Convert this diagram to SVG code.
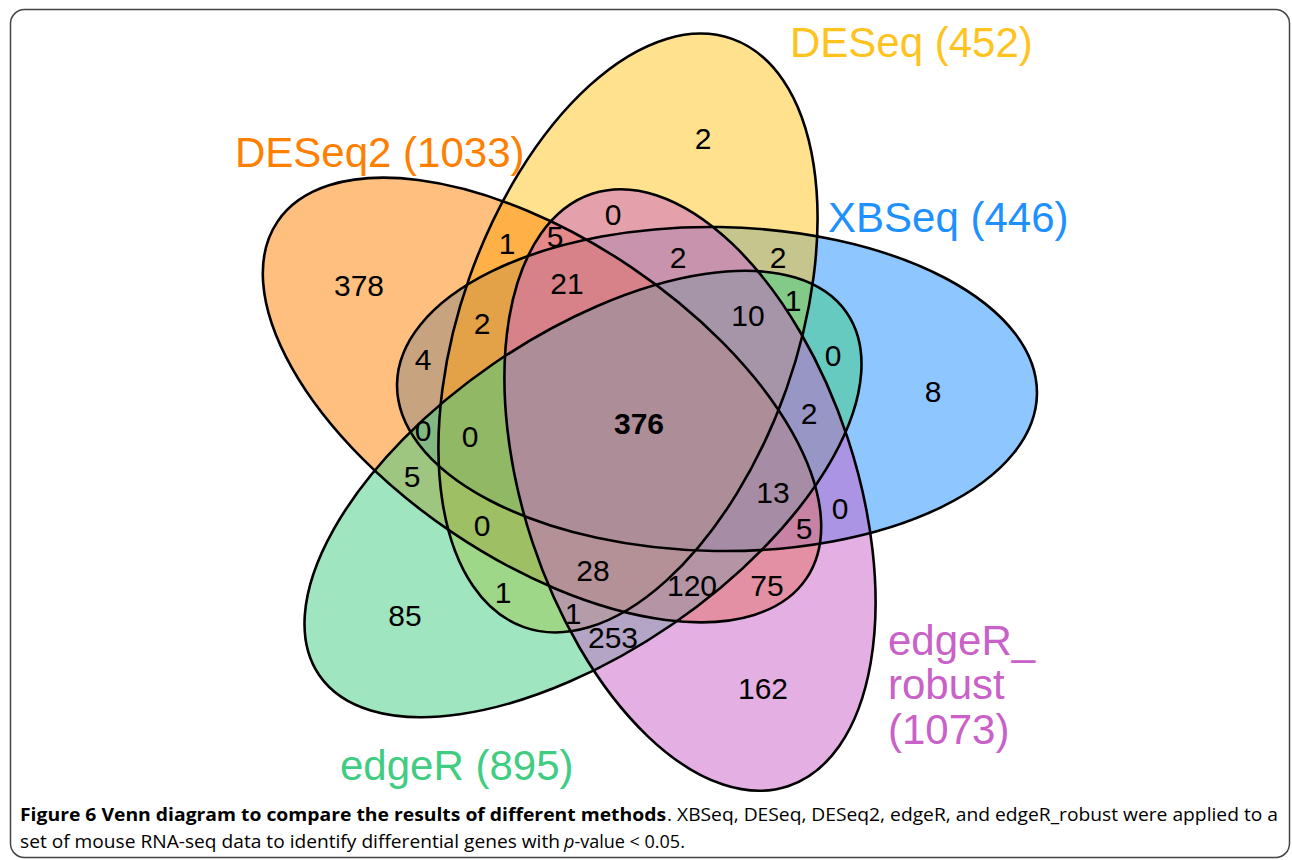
<svg xmlns="http://www.w3.org/2000/svg" xmlns:xlink="http://www.w3.org/1999/xlink" width="1292" height="860" viewBox="0 0 1292 860">
<style>
.fill{stroke:none;fill-opacity:0.5}
.outline{fill:none;stroke:#000;stroke-width:2.6}
.lbl{font-family:"Liberation Sans",Arial,sans-serif;font-size:42px}
.n{font-family:"Liberation Sans",Arial,sans-serif;font-size:30px;fill:#000;text-anchor:middle}
.cap{font-family:"Open Sans","Liberation Sans",Arial,sans-serif;font-size:18px;fill:#000}
</style>
<defs>
<ellipse id="e-xbseq" cx="0" cy="0" rx="320" ry="162" transform="translate(717,389) rotate(0.9)"/>
<ellipse id="e-deseq" cx="0" cy="0" rx="312" ry="168" transform="translate(628,333) rotate(-70.5)"/>
<ellipse id="e-deseq2" cx="0" cy="0" rx="319" ry="160" transform="translate(542,400) rotate(34)"/>
<ellipse id="e-edger" cx="0" cy="0" rx="320" ry="158" transform="translate(583,494) rotate(-34.5)"/>
<ellipse id="e-robust" cx="0" cy="0" rx="312" ry="166" transform="translate(690,490) rotate(71.7)"/>
</defs>
<rect x="10.5" y="9.5" width="1279" height="848" rx="14" fill="#fff" stroke="#444" stroke-width="1.5"/>
<g id="xbseq">
<use xlink:href="#e-xbseq" class="fill" fill="#1E90FF"/>
<text class="lbl" x="828" y="232" fill="#1E90FF">XBSeq (446)</text>
</g>
<g id="deseq">
<use xlink:href="#e-deseq" class="fill" fill="#FFC31E"/>
<text class="lbl" x="790" y="57" fill="#FFC31E">DESeq (452)</text>
</g>
<g id="deseq2">
<use xlink:href="#e-deseq2" class="fill" fill="#FF8000"/>
<text class="lbl" x="235" y="167" fill="#FF8000">DESeq2 (1033)</text>
</g>
<g id="edger">
<use xlink:href="#e-edger" class="fill" fill="#40CD82"/>
<text class="lbl" x="340" y="780" fill="#40CD82">edgeR (895)</text>
</g>
<g id="edger_robust">
<use xlink:href="#e-robust" class="fill" fill="#C961C9"/>
<text class="lbl" x="888" y="655" fill="#C961C9">edgeR_</text>
<text class="lbl" x="888" y="699" fill="#C961C9">robust</text>
<text class="lbl" x="888" y="744" fill="#C961C9">(1073)</text>
</g>
<g id="connectors">
<use xlink:href="#e-xbseq" class="outline"/>
<use xlink:href="#e-deseq" class="outline"/>
<use xlink:href="#e-deseq2" class="outline"/>
<use xlink:href="#e-edger" class="outline"/>
<use xlink:href="#e-robust" class="outline"/>
</g>
<g id="counts">
<text class="n" x="703" y="149">2</text>
<text class="n" x="359" y="296">378</text>
<text class="n" x="613" y="225">0</text>
<text class="n" x="507" y="254">1</text>
<text class="n" x="555" y="247">5</text>
<text class="n" x="678" y="268">2</text>
<text class="n" x="778" y="268">2</text>
<text class="n" x="567" y="294">21</text>
<text class="n" x="793" y="311">1</text>
<text class="n" x="748" y="326">10</text>
<text class="n" x="482" y="334">2</text>
<text class="n" x="423" y="370">4</text>
<text class="n" x="833" y="366">0</text>
<text class="n" x="933" y="402">8</text>
<text class="n" x="639" y="434" font-weight="bold">376</text>
<text class="n" x="423" y="441">0</text>
<text class="n" x="470" y="447">0</text>
<text class="n" x="809" y="424">2</text>
<text class="n" x="412" y="487">5</text>
<text class="n" x="773" y="503">13</text>
<text class="n" x="840" y="519">0</text>
<text class="n" x="804" y="539">5</text>
<text class="n" x="482" y="536">0</text>
<text class="n" x="593" y="581">28</text>
<text class="n" x="692" y="596">120</text>
<text class="n" x="767" y="596">75</text>
<text class="n" x="503" y="603">1</text>
<text class="n" x="573" y="624">1</text>
<text class="n" x="613" y="648">253</text>
<text class="n" x="405" y="626">85</text>
<text class="n" x="763" y="699">162</text>
</g>
<g id="caption">
<text class="cap" x="20" y="821" font-weight="bold" textLength="646" lengthAdjust="spacingAndGlyphs">Figure 6 Venn diagram to compare the results of different methods</text>
<text class="cap" x="667" y="821" textLength="611" lengthAdjust="spacingAndGlyphs">. XBSeq, DESeq, DESeq2, edgeR, and edgeR_robust were applied to a</text>
<text class="cap" x="20" y="848" textLength="540" lengthAdjust="spacingAndGlyphs">set of mouse RNA-seq data to identify differential genes with</text>
<text class="cap" x="564" y="848"><tspan font-style="italic">p</tspan>-value &lt; 0.05.</text>
</g>
</svg>
